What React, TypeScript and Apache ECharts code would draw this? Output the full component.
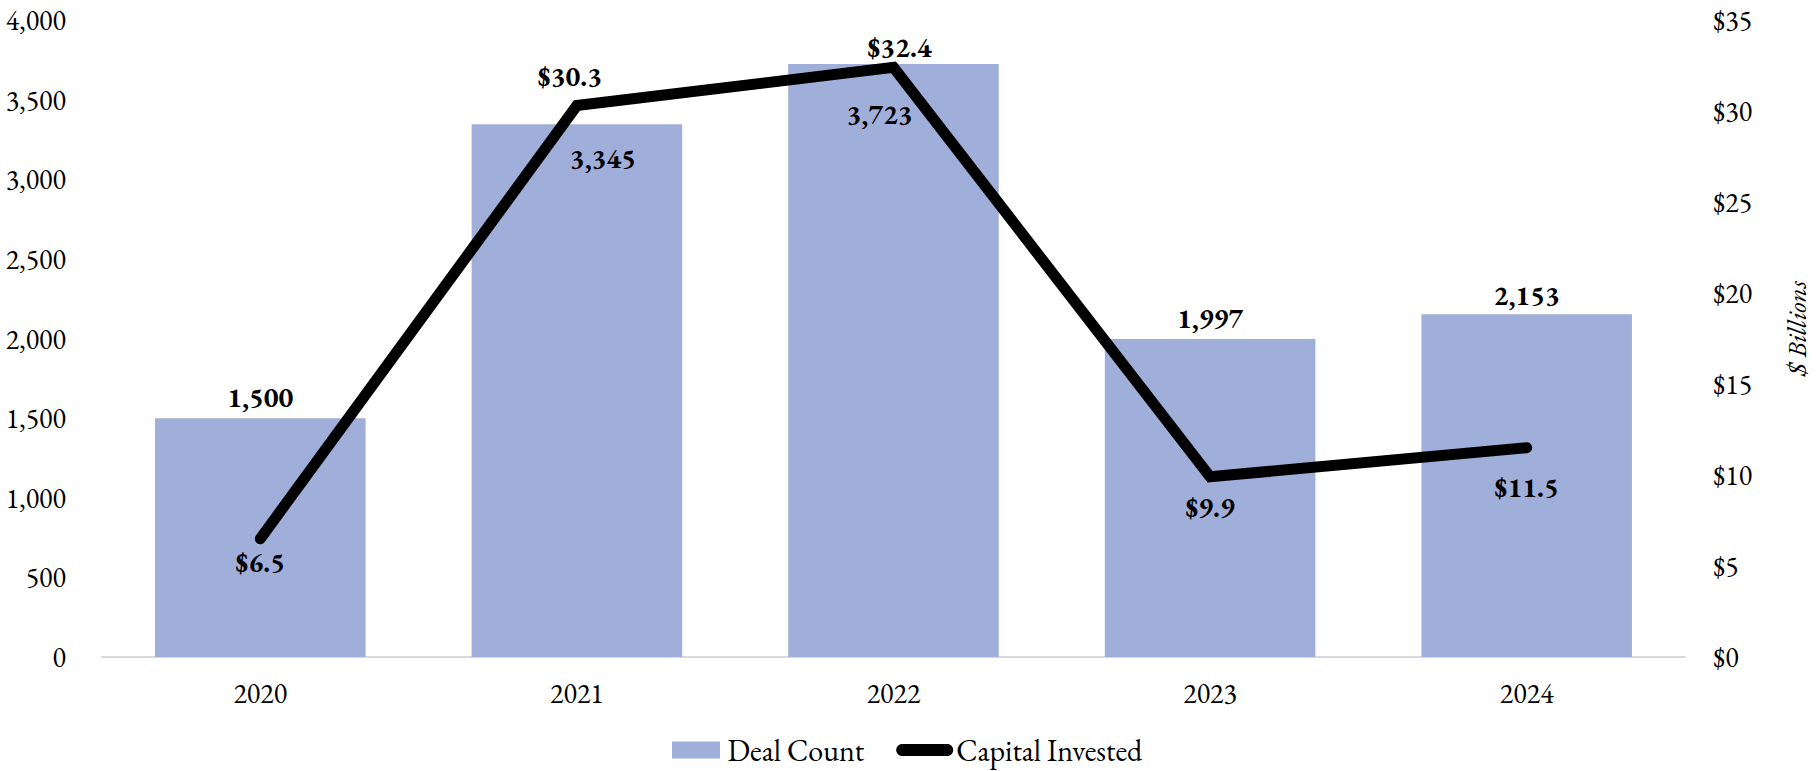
import React, { useEffect, useRef } from "react";
import * as echarts from "echarts";

const years = ["2020", "2021", "2022", "2023", "2024"];
const dealCount = [1500, 3345, 3723, 1997, 2153];
const capitalInvested = [6.5, 30.3, 32.4, 9.9, 11.5];
const leftTicks = { min: 0, max: 4000, interval: 500 };
const rightTicks = { min: 0, max: 35, interval: 5 };

const FONT = 'Garamond, "EB Garamond", "Liberation Serif", "DejaVu Serif", serif';
const BAR_COLOR = "#A0AFD9";

const withCommas = (v: number) =>
  String(Math.round(v)).replace(/\B(?=(\d{3})+(?!\d))/g, ",");

// per-point label placements (layout only)
const barLabelLayout = [
  { position: "top", distance: 7, offset: [0, 0] },
  { position: "insideTop", distance: 20, offset: [26, 0] },
  { position: "insideTop", distance: 36, offset: [-14, 0] },
  { position: "top", distance: 7, offset: [0, 0] },
  { position: "top", distance: 5, offset: [0, 0] },
];
const lineLabelLayout = [
  { position: "bottom", distance: 8, offset: [0, 0] },
  { position: "top", distance: 15, offset: [-7, 0] },
  { position: "top", distance: 5, offset: [6, 0] },
  { position: "bottom", distance: 15, offset: [0, 0] },
  { position: "bottom", distance: 24, offset: [0, 0] },
];

export default function App() {
  const ref = useRef<HTMLDivElement>(null);

  useEffect(() => {
    document.body.style.margin = "0";
    if (!ref.current) return;
    const chart = echarts.init(ref.current, undefined, { renderer: "svg" });

    const labelText = {
      fontFamily: FONT,
      fontSize: 28,
      fontWeight: "bold" as const,
      color: "#000",
    };

    const option: any = {
      animation: false,
      backgroundColor: "#ffffff",
      textStyle: { fontFamily: FONT },
      grid: { left: 102, right: 120, top: 20, bottom: 114, containLabel: false },
      legend: {
        left: 667,
        top: 730,
        itemWidth: 57,
        itemHeight: 17,
        itemGap: 32,
        selectedMode: false,
        textStyle: { fontFamily: FONT, fontSize: 30, color: "#000", padding: [0, 0, 0, -2] },
        data: [
          { name: "Deal Count", icon: "path://M0,0H48V17H0Z", itemStyle: { color: BAR_COLOR } },
          {
            name: "Capital Invested",
            icon: "path://M6,0L51,0C54.3,0 57,2.7 57,6C57,9.3 54.3,12 51,12L6,12C2.7,12 0,9.3 0,6C0,2.7 2.7,0 6,0Z",
            itemStyle: { color: "#000", borderWidth: 0 },
            lineStyle: { width: 0, opacity: 0 },
          },
        ],
      },
      xAxis: {
        type: "category",
        data: years,
        axisLine: { show: true, lineStyle: { color: "#D9D9D9", width: 2 } },
        axisTick: { show: false },
        axisLabel: { fontFamily: FONT, fontSize: 28, color: "#000", margin: 22 },
      },
      yAxis: [
        {
          type: "value",
          min: leftTicks.min,
          max: leftTicks.max,
          interval: leftTicks.interval,
          splitLine: { show: false },
          axisLine: { show: false },
          axisTick: { show: false },
          axisLabel: {
            fontFamily: FONT,
            fontSize: 28,
            color: "#000",
            margin: 36,
            formatter: (v: number) => withCommas(v),
          },
        },
        {
          type: "value",
          position: "right",
          min: rightTicks.min,
          max: rightTicks.max,
          interval: rightTicks.interval,
          splitLine: { show: false },
          axisLine: { show: false },
          axisTick: { show: false },
          axisLabel: {
            fontFamily: FONT,
            fontSize: 28,
            color: "#000",
            margin: 28,
            formatter: (v: number) => "$" + v,
          },
          name: "$ Billions",
          nameLocation: "middle",
          nameRotate: 90,
          nameGap: 98,
          nameTextStyle: {
            fontFamily: FONT,
            fontSize: 27,
            fontStyle: "italic",
            color: "#000",
            padding: [0, 0, 0, 20],
          },
        },
      ],
      series: [
        {
          name: "Deal Count",
          type: "bar",
          yAxisIndex: 0,
          barCategoryGap: "33.5%",
          itemStyle: { color: BAR_COLOR },
          data: dealCount.map((v, i) => ({
            value: v,
            label: {
              show: true,
              position: barLabelLayout[i].position,
              distance: barLabelLayout[i].distance,
              offset: barLabelLayout[i].offset,
              formatter: (p: any) => withCommas(p.value),
              ...labelText,
            },
          })),
        },
        {
          name: "Capital Invested",
          type: "line",
          yAxisIndex: 1,
          symbol: "circle",
          symbolSize: 2,
          showSymbol: true,
          itemStyle: { color: "#000" },
          lineStyle: { color: "#000", width: 11, cap: "round", join: "miter" },
          z: 5,
          data: capitalInvested.map((v, i) => ({
            value: v,
            label: {
              show: true,
              position: lineLabelLayout[i].position,
              distance: lineLabelLayout[i].distance,
              offset: lineLabelLayout[i].offset,
              formatter: (p: any) => "$" + Number(p.value).toFixed(1),
              ...labelText,
            },
          })),
        },
      ],
    };

    chart.setOption(option);
    return () => chart.dispose();
  }, []);

  return <div ref={ref} style={{ width: 1818, height: 771 }} />;
}
